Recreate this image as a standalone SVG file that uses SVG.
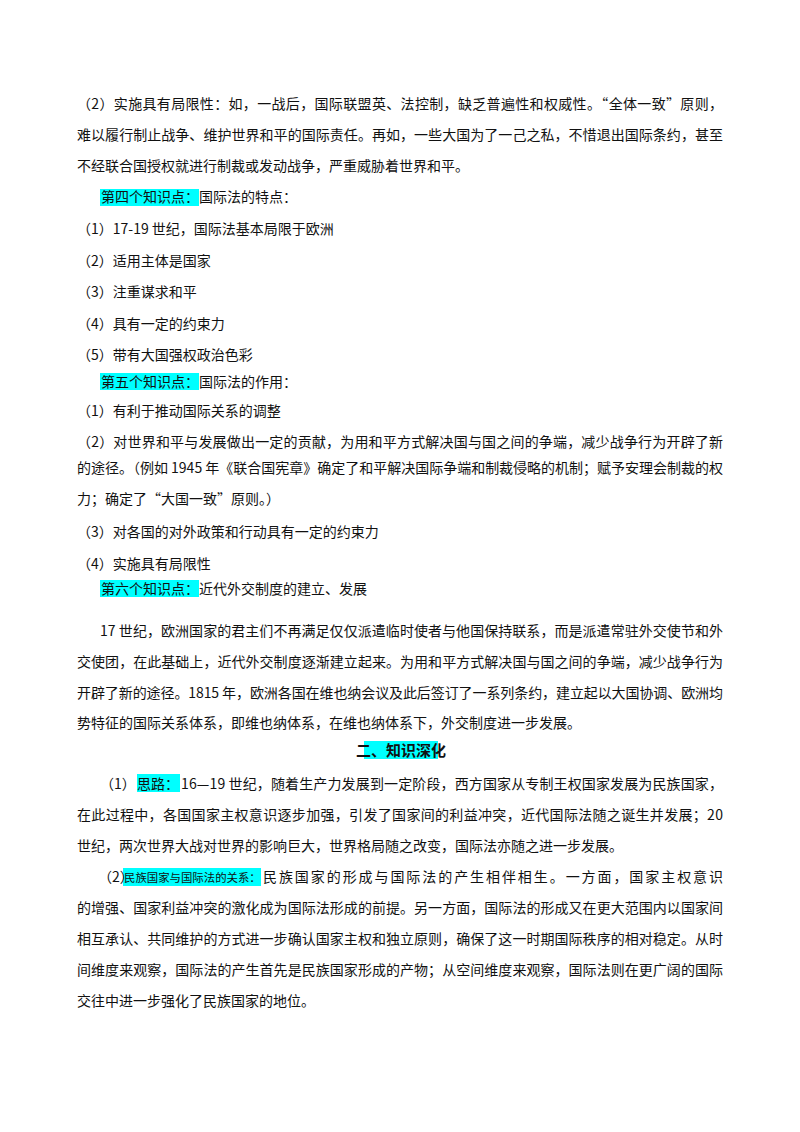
<svg xmlns="http://www.w3.org/2000/svg" width="800" height="1132" viewBox="0 0 800 1132">
<style>
text{font-family:"Noto Sans CJK SC","Liberation Serif",serif;font-size:14px;fill:#111}
.b{font-weight:bold;font-size:15px}
.hl{fill:#00ffff}
</style>
<rect width="800" height="1132" fill="#fff"/>
<g id="p1">
<text x="77" y="109" textLength="646" lengthAdjust="spacing">（2）实施具有局限性：如，一战后，国际联盟英、法控制，缺乏普遍性和权威性。“全体一致”原则，</text>
<text x="77" y="140" textLength="646" lengthAdjust="spacing">难以履行制止战争、维护世界和平的国际责任。再如，一些大国为了一己之私，不惜退出国际条约，甚至</text>
<text x="77" y="171">不经联合国授权就进行制裁或发动战争，严重威胁着世界和平。</text>
</g>
<g id="s4">
<rect class="hl" x="100" y="189" width="99" height="17"/>
<text x="101" y="202">第四个知识点：国际法的特点：</text>
<text x="77" y="234">（1）17-19 世纪，国际法基本局限于欧洲</text>
<text x="77" y="266">（2）适用主体是国家</text>
<text x="77" y="297">（3）注重谋求和平</text>
<text x="77" y="329">（4）具有一定的约束力</text>
<text x="77" y="360">（5）带有大国强权政治色彩</text>
</g>
<g id="s5">
<rect class="hl" x="100" y="373" width="99" height="17"/>
<text x="101" y="387">第五个知识点：国际法的作用：</text>
<text x="77" y="416">（1）有利于推动国际关系的调整</text>
<text x="77" y="447" textLength="646" lengthAdjust="spacing">（2）对世界和平与发展做出一定的贡献，为用和平方式解决国与国之间的争端，减少战争行为开辟了新</text>
<text x="77" y="473" textLength="646" lengthAdjust="spacing">的途径。（例如 1945 年《联合国宪章》确定了和平解决国际争端和制裁侵略的机制；赋予安理会制裁的权</text>
<text x="77" y="504">力；确定了“大国一致”原则。）</text>
<text x="77" y="537">（3）对各国的对外政策和行动具有一定的约束力</text>
<text x="77" y="569">（4）实施具有局限性</text>
</g>
<g id="s6">
<rect class="hl" x="100" y="580" width="99" height="17"/>
<text x="101" y="594">第六个知识点：近代外交制度的建立、发展</text>
<text x="100" y="636" textLength="623" lengthAdjust="spacing">17 世纪，欧洲国家的君主们不再满足仅仅派遣临时使者与他国保持联系，而是派遣常驻外交使节和外</text>
<text x="77" y="667" textLength="646" lengthAdjust="spacing">交使团，在此基础上，近代外交制度逐渐建立起来。为用和平方式解决国与国之间的争端，减少战争行为</text>
<text x="77" y="698" textLength="646" lengthAdjust="spacing">开辟了新的途径。1815 年，欧洲各国在维也纳会议及此后签订了一系列条约，建立起以大国协调、欧洲均</text>
<text x="77" y="728">势特征的国际关系体系，即维也纳体系，在维也纳体系下，外交制度进一步发展。</text>
</g>
<g id="s7">
<rect class="hl" x="364" y="741" width="74" height="18"/>
<text class="b" x="401" y="756" text-anchor="middle">二、知识深化</text>
<rect class="hl" x="137" y="774" width="43" height="18"/>
<text x="100" y="789">（1）</text>
<text x="137" y="789">思路：</text>
<text x="181" y="789" textLength="542" lengthAdjust="spacing">16—19 世纪，随着生产力发展到一定阶段，西方国家从专制王权国家发展为民族国家，</text>
<text x="77" y="820" textLength="646" lengthAdjust="spacing">在此过程中，各国国家主权意识逐步加强，引发了国家间的利益冲突，近代国际法随之诞生并发展；20</text>
<text x="77" y="851">世纪，两次世界大战对世界的影响巨大，世界格局随之改变，国际法亦随之进一步发展。</text>
<rect class="hl" x="123" y="868" width="138" height="18"/>
<text x="98" y="882">（2）</text>
<text x="124" y="882" style="font-size:11.4px">民族国家与国际法的关系：</text>
<text x="263" y="882" textLength="460" lengthAdjust="spacing">民族国家的形成与国际法的产生相伴相生。一方面，国家主权意识</text>
<text x="77" y="913" textLength="646" lengthAdjust="spacing">的增强、国家利益冲突的激化成为国际法形成的前提。另一方面，国际法的形成又在更大范围内以国家间</text>
<text x="77" y="944" textLength="646" lengthAdjust="spacing">相互承认、共同维护的方式进一步确认国家主权和独立原则，确保了这一时期国际秩序的相对稳定。从时</text>
<text x="77" y="975" textLength="646" lengthAdjust="spacing">间维度来观察，国际法的产生首先是民族国家形成的产物；从空间维度来观察，国际法则在更广阔的国际</text>
<text x="77" y="1006">交往中进一步强化了民族国家的地位。</text>
</g>
</svg>
